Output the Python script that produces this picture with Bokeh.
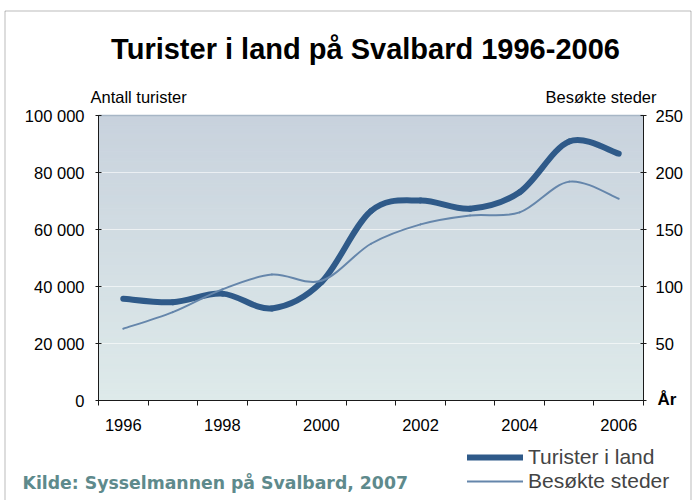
from bokeh.plotting import figure
from bokeh.models import (Range1d, LinearAxis, FixedTicker, Label, Legend,
                          LegendItem, ColumnDataSource, BoxAnnotation)
from bokeh.embed import file_html
from bokeh.resources import INLINE
import numpy as np

# ---- data ----
years = [1996, 1997, 1998, 1999, 2000, 2001, 2002, 2003, 2004, 2005, 2006]
turister_i_land = [35700, 34500, 37500, 32300, 41500, 66500, 70200, 67300, 73100, 90900, 86600]
besokte_steder = [63, 77.5, 97.5, 110.5, 105, 137.5, 154.5, 162.3, 165, 192, 177]
left_ticks = [0, 20000, 40000, 60000, 80000, 100000]
left_labels = ["0", "20 000", "40 000", "60 000", "80 000", "100 000"]
right_ticks = [0, 50, 100, 150, 200, 250]
label_years = [1996, 1998, 2000, 2002, 2004, 2006]

FONT = "Liberation Sans"

# ---- layout constants (canvas pixels) ----
W, H = 698, 500
PL, PR, PT, PB = 98, 643, 115, 400   # plot area inside the canvas


def smooth_segments(xs, ys):
    """Excel-like smoothed line: cubic Bezier segments through the points."""
    xs = np.asarray(xs, float)
    ys = np.asarray(ys, float)
    n = len(xs)
    d = dict(x0=[], y0=[], x1=[], y1=[], cx0=[], cy0=[], cx1=[], cy1=[])
    for i in range(n - 1):
        pi, pn = i - 1 if i > 0 else i, i + 2 if i + 2 < n else i + 1
        d["x0"].append(xs[i]); d["y0"].append(ys[i])
        d["x1"].append(xs[i + 1]); d["y1"].append(ys[i + 1])
        d["cx0"].append(xs[i] + (xs[i + 1] - xs[pi]) / 6)
        d["cy0"].append(ys[i] + (ys[i + 1] - ys[pi]) / 6)
        d["cx1"].append(xs[i + 1] - (xs[pn] - xs[i]) / 6)
        d["cy1"].append(ys[i + 1] - (ys[pn] - ys[i]) / 6)
    return ColumnDataSource(d)


x_lo, x_hi = years[0] - 0.5, years[-1] + 0.5
y_max = left_ticks[-1]
kx = (PR - PL) / (x_hi - x_lo)
ky = (PB - PT) / y_max
xr = Range1d(x_lo - PL / kx, x_hi + (W - PR) / kx)
yr = Range1d(-(H - PB) / ky, y_max + PT / ky)
rs = right_ticks[-1] / y_max

p = figure(width=W, height=H, output_backend="svg", toolbar_location=None,
           x_range=xr, y_range=yr, x_axis_location=None, y_axis_location=None,
           title_location=None, min_border=0)
p.min_border_left = p.min_border_right = p.min_border_top = p.min_border_bottom = 0
p.extra_y_ranges = {"right": Range1d(yr.start * rs, yr.end * rs)}
p.background_fill_color = "white"
p.border_fill_color = "white"
p.outline_line_color = None
p.xgrid.visible = False
p.ygrid.visible = False

# gradient background of the plot area (decoration)
nb = 80
edges = np.linspace(0, y_max, nb + 1)
t = (edges[:-1] + edges[1:]) / 2 / y_max
bot = np.array([222, 234, 234]); top = np.array([200, 210, 221])
cols = ["#%02x%02x%02x" % tuple(np.round(bot + (top - bot) * ti).astype(int)) for ti in t]
p.quad(left=x_lo, right=x_hi, bottom=edges[:-1], top=edges[1:],
       fill_color=cols, line_color=cols, line_width=1)

# grid lines and top edge of the plot area
p.segment(x0=x_lo, x1=x_hi, y0=left_ticks[1:-1], y1=left_ticks[1:-1],
          line_color="white", line_alpha=0.6, line_width=1)
p.segment(x0=x_lo, x1=x_hi, y0=left_ticks[-1:], y1=left_ticks[-1:],
          line_color="#a7b6c6", line_width=1.5)

# series
thick_src = smooth_segments(years, turister_i_land)
thin_src = smooth_segments(years, besokte_steder)
r1 = p.bezier(x0="x0", y0="y0", x1="x1", y1="y1", cx0="cx0", cy0="cy0",
              cx1="cx1", cy1="cy1", source=thick_src, line_color="#2f5a89",
              line_width=6, line_cap="round")
r2 = p.bezier(x0="x0", y0="y0", x1="x1", y1="y1", cx0="cx0", cy0="cy0",
              cx1="cx1", cy1="cy1", source=thin_src, line_color="#6586ab",
              line_width=2, line_cap="round", y_range_name="right")

# axes (drawn at fixed locations around the plot area)
ax_col = "#1a1a1a"


def style_axis(a):
    a.axis_line_color = ax_col
    a.major_tick_line_color = ax_col
    a.minor_tick_line_color = None
    a.major_label_text_font = FONT
    a.major_label_text_font_size = "16.5px"
    a.major_label_text_color = "black"


xa = LinearAxis(fixed_location=0, bounds=(x_lo, x_hi),
                ticker=FixedTicker(ticks=label_years,
                                   minor_ticks=[x_lo + i for i in range(len(years) + 1)]))
style_axis(xa)
xa.major_tick_in = 0
xa.major_tick_out = 0
xa.minor_tick_in = 0
xa.minor_tick_out = 5
xa.minor_tick_line_color = ax_col
xa.major_label_standoff = 13
p.add_layout(xa, "below")

ya = LinearAxis(fixed_location=x_lo, bounds=(0, y_max), ticker=FixedTicker(ticks=left_ticks))
style_axis(ya)
ya.major_label_overrides = {t_: l_ for t_, l_ in zip(left_ticks, left_labels)}
ya.major_tick_in = 3
ya.major_tick_out = 3
ya.major_label_standoff = 11
p.add_layout(ya, "left")

ra = LinearAxis(y_range_name="right", fixed_location=x_hi, bounds=(0, right_ticks[-1]),
                ticker=FixedTicker(ticks=right_ticks))
style_axis(ra)
ra.major_label_overrides = {0: ""}
ra.major_tick_in = 3
ra.major_tick_out = 3
ra.major_label_standoff = 9
p.add_layout(ra, "right")


# texts; positions in canvas pixels from the top-left corner
def lab(text, X, Y, size, align="left", bold=False, color="black", font=FONT):
    p.add_layout(Label(x=X, y=H - Y, x_units="screen", y_units="screen",
                       text=text, text_font=font, text_font_size=size,
                       text_align=align, text_baseline="middle", text_color=color,
                       text_font_style="bold" if bold else "normal"))


lab("Turister i land på Svalbard 1996-2006", 365, 48, "29px", align="center", bold=True)
lab("Antall turister", 90, 96, "16.5px")
lab("Besøkte steder", 656, 96, "16.5px", align="right")
lab("År", 657, 399, "17px", bold=True)
lab("Kilde: Sysselmannen på Svalbard, 2007", 22, 482, "17.3px", bold=True,
    color="#5e8a8c", font="DejaVu Sans")

legend = Legend(items=[LegendItem(label="Turister i land", renderers=[r1]),
                       LegendItem(label="Besøkte steder", renderers=[r2])],
                location=(467, 7), orientation="vertical")
legend.label_text_font = FONT
legend.label_text_font_size = "21px"
legend.label_height = 24
legend.glyph_height = 24
legend.glyph_width = 56
legend.label_standoff = 5
legend.spacing = 0
legend.padding = 0
legend.margin = 0
legend.border_line_color = None
legend.background_fill_alpha = 0
p.add_layout(legend, "center")

# outer chart border (top, left, right)
p.add_layout(BoxAnnotation(left=4.5, right=690.5, top=H - 10.5, bottom=-10,
                           left_units="screen", right_units="screen",
                           top_units="screen", bottom_units="screen",
                           fill_alpha=0, line_color=ax_col, line_width=1))

open("out.html", "w").write(file_html(p, INLINE))
